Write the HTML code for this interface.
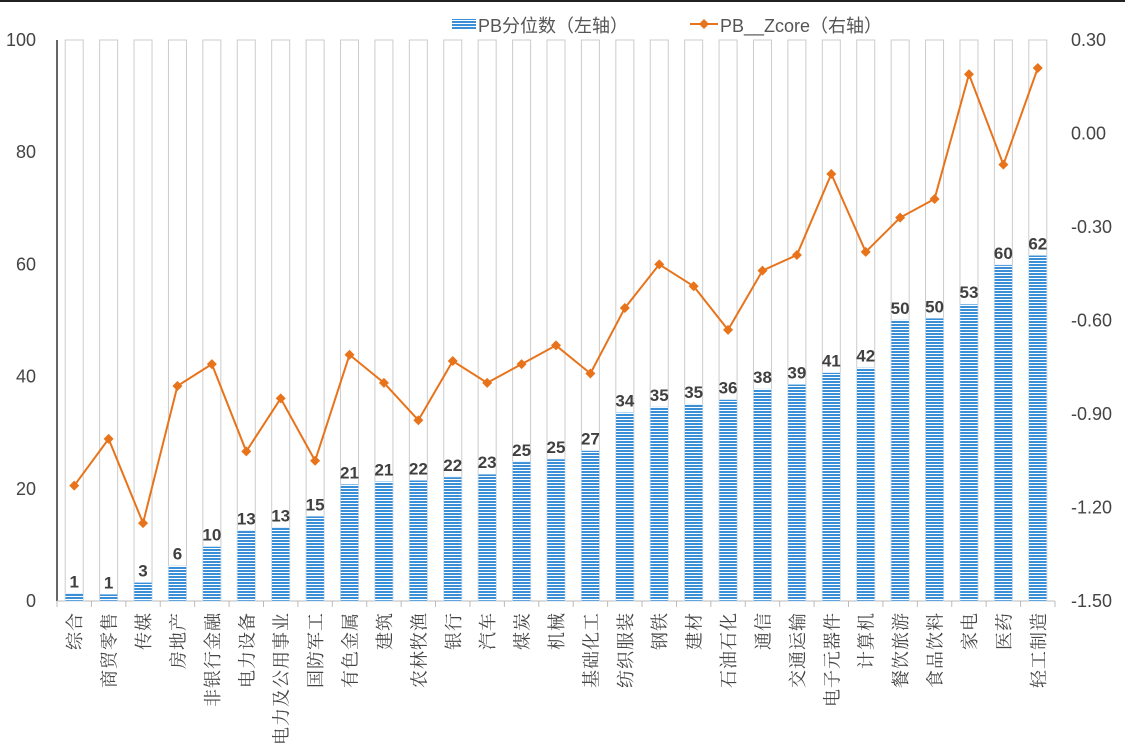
<!DOCTYPE html>
<html><head><meta charset="utf-8">
<style>
html,body{margin:0;padding:0;background:#fff;}
svg{display:block;font-family:"Liberation Sans","Noto Sans CJK SC",sans-serif;}
</style></head>
<body>
<svg id="chart" width="1125" height="753" viewBox="0 0 1125 753">
<defs>
<pattern id="stripe" width="4" height="3" patternUnits="userSpaceOnUse">
<rect width="4" height="3" fill="#fff"/><rect width="4" height="2" fill="#3a8fd6"/>
</pattern>
</defs>
<line x1="0" y1="1" x2="1125" y2="1" stroke="#222" stroke-width="2"/>
<g>
<g>
<rect x="452" y="19" width="24" height="10" fill="url(#stripe)"/>
<text x="478" y="32" font-size="18" fill="#555">PB分位数（左轴）</text>
</g>
<g>
<line x1="690" y1="24" x2="718" y2="24" stroke="#e8731a" stroke-width="2"/>
<path d="M704 19 L709 24 L704 29 L699 24Z" fill="#e8731a"/>
<text x="720" y="32" font-size="18" fill="#555">PB__Zcore（右轴）</text>
</g>
</g>
<g id="axes"></g>
<g id="bars"></g>
<g id="line"></g>
</svg>
<script>
const categories=["综合","商贸零售","传媒","房地产","非银行金融","电力设备","电力及公用事业","国防军工","有色金属","建筑","农林牧渔","银行","汽车","煤炭","机械","基础化工","纺织服装","钢铁","建材","石油石化","通信","交通运输","电子元器件","计算机","餐饮旅游","食品饮料","家电","医药","轻工制造"];
const pbPercentile=[1.3,1.2,3.3,6.3,9.7,12.6,13.1,15.1,20.8,21.3,21.5,22.1,22.6,24.8,25.3,26.8,33.6,34.6,35.1,35.9,37.8,38.6,40.7,41.6,50.1,50.4,52.9,59.9,61.6];
const zcore=[-1.13,-0.98,-1.25,-0.81,-0.74,-1.02,-0.85,-1.05,-0.71,-0.80,-0.92,-0.73,-0.80,-0.74,-0.68,-0.77,-0.56,-0.42,-0.49,-0.63,-0.44,-0.39,-0.13,-0.38,-0.27,-0.21,0.19,-0.10,0.21];
const leftTicks=[0,20,40,60,80,100];
const rightTicks=[-1.5,-1.2,-0.9,-0.6,-0.3,0,0.3];

const NS="http://www.w3.org/2000/svg";
const X0=57,X1=1055,Y0=601,Y1=40;
const bw=(X1-X0)/categories.length;
const xC=i=>X0+bw*(i+0.5);
const yL=v=>Y0-(v-0)/(100-0)*(Y0-Y1);
const yR=v=>Y0-(v-(-1.5))/(0.3-(-1.5))*(Y0-Y1);
function mk(tag,attrs,parent,txt){const e=document.createElementNS(NS,tag);for(const k in attrs)e.setAttribute(k,attrs[k]);if(txt!==undefined)e.textContent=txt;parent.appendChild(e);return e;}
const axes=document.getElementById('axes'),bars=document.getElementById('bars'),line=document.getElementById('line');

leftTicks.forEach(t=>{
  const e=mk('text',{x:36,y:yL(t)+6,'text-anchor':'end','font-size':18,fill:'#444'},axes,String(t));
  
  
});
rightTicks.forEach(t=>{
  const e=mk('text',{x:1071,y:yR(t)+6,'font-size':18,fill:'#444'},axes,t.toFixed(2));
  
  
});
let a=mk('line',{x1:X0,y1:Y1,x2:X0,y2:Y0,stroke:'#333','stroke-width':1.5},axes);


a=mk('line',{x1:X0,y1:Y0,x2:X1,y2:Y0,stroke:'#bbb','stroke-width':1},axes);


for(let i=0;i<=categories.length;i++){
  mk('line',{x1:X0+bw*i,y1:Y0,x2:X0+bw*i,y2:Y0+6,stroke:'#bbb'},axes);
}
categories.forEach((c,i)=>{
  const x=xC(i)+7,y=612;
  const t=mk('text',{x:x,y:y,'font-size':18,fill:'#444','text-anchor':'end',transform:`rotate(-90 ${x} ${y})`,style:'letter-spacing:1px;font-family:"Liberation Serif","Noto Serif CJK SC",serif'},axes,c);
  
  
});
const w=18;
pbPercentile.forEach((v,i)=>{
  const bg=mk('rect',{x:xC(i)-w/2,y:yL(100),width:w,height:yL(0)-yL(100),fill:'#fff',stroke:'#ccc','stroke-width':1},bars);
  
  
  const b=mk('rect',{x:xC(i)-w/2,y:yL(v),width:w,height:yL(0)-yL(v),fill:'url(#stripe)',stroke:'#cfe3f5','stroke-width':0.5},bars);
  
  
  const l=mk('text',{x:xC(i),y:yL(v)-6,'text-anchor':'middle','font-size':17,'font-weight':'bold',fill:'#404040'},bars,String(Math.round(v)));
  
  
});
const pts=zcore.map((v,i)=>xC(i)+','+yR(v)).join(' ');
const pl=mk('polyline',{points:pts,fill:'none',stroke:'#e8731a','stroke-width':2},line);


zcore.forEach((v,i)=>{
  const x=xC(i),y=yR(v);
  const p=mk('path',{d:`M${x} ${y-5} L${x+5} ${y} L${x} ${y+5} L${x-5} ${y}Z`,fill:'#e8731a'},line);
  
  
});
</script>
</body></html>
